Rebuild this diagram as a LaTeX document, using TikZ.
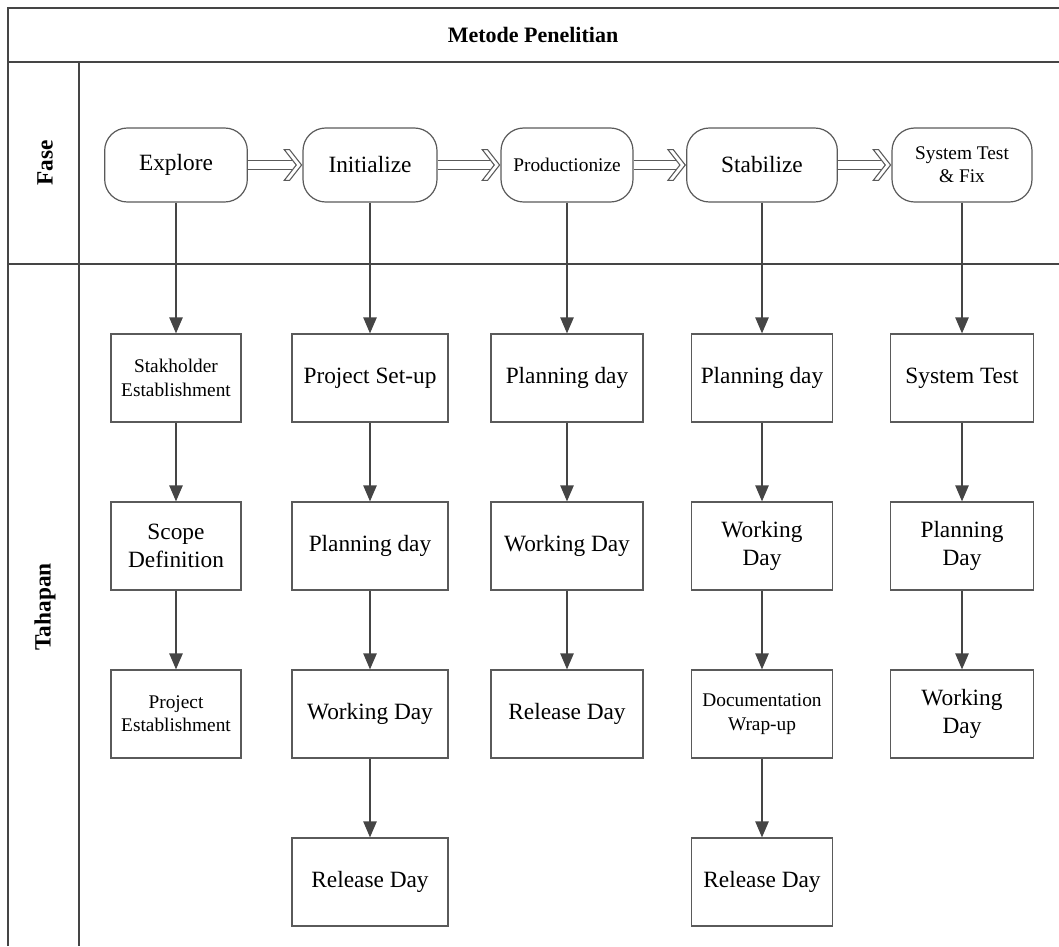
\documentclass[tikz,border=0pt]{standalone}
\usepackage{fontspec}
\setmainfont{Liberation Serif}
\usetikzlibrary{shapes.geometric, arrows.meta}
\definecolor{garis}{HTML}{454545}
\definecolor{kotak}{HTML}{5A5A5A}
\newcommand{\besar}{\fontsize{17.5}{21}\selectfont}
\newcommand{\kecil}{\fontsize{14.5}{17.5}\selectfont}
%% hollow chevron tip for the double arrows between phases
\pgfdeclarearrow{
  name = Chevron,
  setup code = {
    \pgfarrowssettipend{0.6pt}
    \pgfarrowssetbackend{-13pt}
    \pgfarrowssetlineend{-5pt}
    \pgfarrowshullpoint{0.6pt}{0pt}
    \pgfarrowshullpoint{-13pt}{11.5pt}
    \pgfarrowshullpoint{-13pt}{-11.5pt}
  },
  drawing code = {
    \pgfsetlinewidth{0.8pt}
    \pgfsetdash{}{0pt}
    \pgfsetmiterjoin
    \pgfpathmoveto{\pgfqpoint{0pt}{0pt}}
    \pgfpathlineto{\pgfqpoint{-9pt}{11.5pt}}
    \pgfpathlineto{\pgfqpoint{-13pt}{11.5pt}}
    \pgfpathlineto{\pgfqpoint{-4pt}{0pt}}
    \pgfpathlineto{\pgfqpoint{-13pt}{-11.5pt}}
    \pgfpathlineto{\pgfqpoint{-9pt}{-11.5pt}}
    \pgfpathclose
    \pgfsetfillcolor{white}
    \pgfusepathqfillstroke
  },
  cache = false
}
\tikzstyle{fase} = [rectangle, rounded corners=17pt, minimum height=55.5pt,
  text centered, align=center, draw=kotak, line width=0.9pt, fill=white, font=\besar]
\tikzstyle{tahap} = [rectangle, minimum height=66pt, text centered,
  align=center, draw=kotak, line width=0.9pt, fill=white, font=\besar]
\tikzstyle{frame} = [garis, line width=1.3pt]
\tikzstyle{arrow} = [garis, line width=1.1pt, -{Triangle[length=12pt,width=10pt]}]
\tikzstyle{implies} = [kotak, double, double distance=5.5pt, line width=0.8pt, -Chevron]

\begin{document}
\begin{tikzpicture}[x=0.75pt, y=-0.75pt, node distance=126pt]

  \useasboundingbox (0,0) rectangle (1059,946);

  %% Frame of the table
  \draw [frame] (8,946) -- (8,8) -- (1059,8);
  \draw [frame] (8,62) -- (1059,62);
  \draw [frame] (8,264) -- (1059,264);
  \draw [frame] (79,62) -- (79,946);

  \node (judul) at (533,35) {\fontsize{16.5}{20}\selectfont\bfseries Metode Penelitian};
  \node (lblfase) [rotate=90] at (45,163) {\fontsize{17.5}{21}\selectfont\bfseries Fase};
  \node (lbltahapan) [rotate=90] at (45,607) {\fontsize{17.5}{21}\selectfont\bfseries Tahapan};

  %% Phases
  \node (explore) [fase, minimum width=107pt] at (176,165) {Explore};
  \node (init) [fase, minimum width=100.5pt] at (370,165) {Initialize};
  \node (prod) [fase, minimum width=99pt, font=\kecil] at (567,165) {Productionize};
  \node (stab) [fase, minimum width=113pt] at (762,165) {Stabilize};
  \node (systest) [fase, minimum width=105pt, font=\kecil] at (962,165) {System Test\\\& Fix};

  \draw [implies] (explore) -- (init);
  \draw [implies] (init) -- (prod);
  \draw [implies] (prod) -- (stab);
  \draw [implies] (stab) -- (systest);

  %% Explore
  \node (stake) [tahap, minimum width=97.5pt, font=\kecil, below of=explore, yshift=-33.75pt] {Stakholder\\Establishment};
  \node (scope) [tahap, minimum width=97.5pt, below of=stake] {Scope\\Definition};
  \node (projest) [tahap, minimum width=97.5pt, font=\kecil, below of=scope] {Project\\Establishment};

  %% Initialize
  \node (setup) [tahap, minimum width=117pt, below of=init, yshift=-33.75pt] {Project Set-up};
  \node (plan1) [tahap, minimum width=117pt, below of=setup] {Planning day};
  \node (work1) [tahap, minimum width=117pt, below of=plan1] {Working Day};
  \node (rel1) [tahap, minimum width=117pt, below of=work1] {Release Day};

  %% Productionize
  \node (plan2) [tahap, minimum width=114pt, below of=prod, yshift=-33.75pt] {Planning day};
  \node (work2) [tahap, minimum width=114pt, below of=plan2] {Working Day};
  \node (rel2) [tahap, minimum width=114pt, below of=work2] {Release Day};

  %% Stabilize
  \node (plan3) [tahap, minimum width=106pt, below of=stab, yshift=-33.75pt] {Planning day};
  \node (work3) [tahap, minimum width=106pt, below of=plan3] {Working\\Day};
  \node (doc) [tahap, minimum width=106pt, font=\kecil, below of=work3] {Documentation\\Wrap-up};
  \node (rel3) [tahap, minimum width=106pt, below of=doc] {Release Day};

  %% System Test & Fix
  \node (test) [tahap, minimum width=107pt, below of=systest, yshift=-33.75pt] {System Test};
  \node (plan4) [tahap, minimum width=107pt, below of=test] {Planning\\Day};
  \node (work4) [tahap, minimum width=107pt, below of=plan4] {Working\\Day};

  \draw [arrow] (explore) -- (stake);
  \draw [arrow] (stake) -- (scope);
  \draw [arrow] (scope) -- (projest);

  \draw [arrow] (init) -- (setup);
  \draw [arrow] (setup) -- (plan1);
  \draw [arrow] (plan1) -- (work1);
  \draw [arrow] (work1) -- (rel1);

  \draw [arrow] (prod) -- (plan2);
  \draw [arrow] (plan2) -- (work2);
  \draw [arrow] (work2) -- (rel2);

  \draw [arrow] (stab) -- (plan3);
  \draw [arrow] (plan3) -- (work3);
  \draw [arrow] (work3) -- (doc);
  \draw [arrow] (doc) -- (rel3);

  \draw [arrow] (systest) -- (test);
  \draw [arrow] (test) -- (plan4);
  \draw [arrow] (plan4) -- (work4);

\end{tikzpicture}
\end{document}
